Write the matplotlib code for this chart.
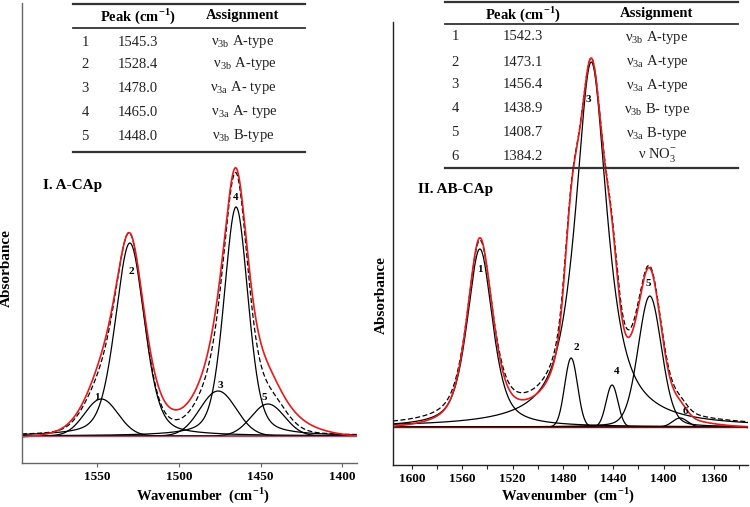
import numpy as np
import matplotlib
matplotlib.use("Agg")
import matplotlib.pyplot as plt
from matplotlib.lines import Line2D

plt.rcParams['font.family'] = ['Liberation Serif', 'DejaVu Serif']
plt.rcParams['mathtext.fontset'] = 'custom'
plt.rcParams['mathtext.rm'] = 'Liberation Serif'
plt.rcParams['mathtext.bf'] = 'Liberation Serif:bold'

W, H = 750, 507

# ---- panel I : A-CAp  (band centre, height, FWHM, lorentz fraction) ----
a_center = [1547.5, 1530.0, 1476.0, 1465.0, 1445.5]
a_height = [0.37, 1.93, 0.45, 2.29, 0.32]
a_width = [24, 21, 26, 17.5, 24]
a_eta = [0.0, 0.35, 0.0, 0.35, 0.0]
# measured spectrum (red), baseline corrected at the ends
a_obs_height = [0.40, 1.93, 0.47, 2.26, 0.44]
a_obs_width = [25, 22, 27, 18.5, 29]
a_obs_eta = [0.3, 0.55, 0.3, 0.6, 0.9]
a_labels = ['1', '2', '3', '4', '5']
a_label_x = [1550.3, 1529.0, 1474.7, 1465.5, 1447.8]
a_label_y = [0.39, 1.64, 0.50, 2.38, 0.39]
a_table = [('1', '1545.3', 'ν$_{\\mathrm{3b}}$ A-type'),
           ('2', '1528.4', ' ν$_{\\mathrm{3b}}$ A-type'),
           ('3', '1478.0', 'ν$_{\\mathrm{3a}}$ A- type'),
           ('4', '1465.0', ' ν$_{\\mathrm{3a}}$ A- type'),
           ('5', '1448.0', 'ν$_{\\mathrm{3b}}$ B-type')]

# ---- panel II : AB-CAp ----
b_center = [1546.0, 1473.5, 1457.5, 1441.0, 1411.0, 1387.0]
b_height = [1.78, 0.69, 3.65, 0.42, 1.31, 0.09]
b_width = [24, 12, 30, 11, 22, 14]
b_eta = [0.6, 0.0, 0.85, 0.0, 0.2, 0.0]
b_obs_height = [1.86, 0.72, 3.70, 0.44, 1.36, 0.10]
b_obs_width = [24, 12, 29.5, 11, 22, 14]
b_obs_eta = [0.55, 0.0, 0.8, 0.0, 0.2, 0.0]
b_labels = ['1', '2', '3', '4', '5', '6']
b_label_x = [1545.8, 1469.5, 1460.0, 1437.0, 1412.3, 1383.0]
b_label_y = [1.58, 0.79, 3.27, 0.55, 1.43, 0.15]
b_table = [('1', '1542.3', 'ν$_{\\mathrm{3b}}$ A-type'),
           ('2', '1473.1', 'ν$_{\\mathrm{3a}}$ A-type'),
           ('3', '1456.4', 'ν$_{\\mathrm{3a}}$ A-type'),
           ('4', '1438.9', 'ν$_{\\mathrm{3b}}$ B- type'),
           ('5', '1408.7', 'ν$_{\\mathrm{3a}}$ B-type'),
           ('6', '1384.2', 'ν NO$_3^{-}$')]


def band(x, c, h, w, eta):
    g = np.exp(-4 * np.log(2) * ((x - c) / w) ** 2)
    l = 1 / (1 + ((x - c) / (w / 2)) ** 2)
    return h * (eta * l + (1 - eta) * g)


def fx(px):
    return px / W


def fy(py):
    return 1 - py / H


fig = plt.figure(figsize=(7.5, 5.07), dpi=100)


def panel(rect, xlim, ylim, centers, heights, widths, etas,
          oh, ow, oe, labels, lx, ly, spine_col, base_col, major, lab_every):
    ax = fig.add_axes(rect)
    x = np.linspace(xlim[0], xlim[1], 1200)
    total = np.zeros_like(x)
    for c, h, w, e in zip(centers, heights, widths, etas):
        y = band(x, c, h, w, e)
        total += y
        ax.plot(x, y, color='black', lw=0.9)
    obs = np.zeros_like(x)
    for c, h, w, e in zip(centers, oh, ow, oe):
        obs += band(x, c, h, w, e)
    obs = obs - np.interp(x, [x[0], x[-1]], [obs[0], obs[-1]])
    ax.plot(x, total, color='black', lw=0.9, ls=(0, (4, 2)))
    ax.plot(x, obs, color='#e41a1c', lw=1.2)
    ax.axhline(0, color=base_col, lw=1.0)
    for t, a, b in zip(labels, lx, ly):
        ax.text(a, b, t, ha='center', va='center', fontsize=8, fontweight='bold')
    ax.set_xlim(xlim)
    ax.set_ylim(ylim)
    ax.set_yticks([])
    ax.set_xticks(major)
    ax.set_xticklabels([str(v) if i % lab_every == 0 else '' for i, v in enumerate(major)],
                       fontsize=9.5, fontweight='bold')
    ax.tick_params(axis='x', length=3, width=0.8, color=spine_col, pad=2.5)
    for s in ['top', 'right']:
        ax.spines[s].set_visible(False)
    for s in ['left', 'bottom']:
        ax.spines[s].set_color(spine_col)
        ax.spines[s].set_linewidth(1.0)
    ax.patch.set_alpha(0)
    return ax


panel([fx(22), fy(463), fx(357) - fx(22), fy(3) - fy(463)], (1596, 1391), (-0.27, 4.33),
      a_center, a_height, a_width, a_eta, a_obs_height, a_obs_width, a_obs_eta,
      a_labels, a_label_x, a_label_y, '#666666', '#a0506e',
      [1550, 1500, 1450, 1400], 1)
panel([fx(393), fy(465), fx(748) - fx(393), fy(22) - fy(465)], (1615, 1333), (-0.38, 4.05),
      b_center, b_height, b_width, b_eta, b_obs_height, b_obs_width, b_obs_eta,
      b_labels, b_label_x, b_label_y, '#222222', '#7a1010',
      list(range(1600, 1333, -20)), 2)


def table(x0, x1, ytop, yhead, ybot, yhtext, rows_y, colx, rows):
    for yy, lw in [(ytop, 1.6), (yhead, 1.3), (ybot, 1.6)]:
        fig.add_artist(Line2D([fx(x0), fx(x1)], [fy(yy), fy(yy)], color='#333333', lw=lw))
    fig.text(fx(colx[1]), fy(yhtext), 'Peak (cm$^{\\mathbf{-1}}$)', ha='center', va='center',
             fontsize=10.5, fontweight='bold')
    fig.text(fx(colx[2]), fy(yhtext), 'Assignment', ha='center', va='center',
             fontsize=10.5, fontweight='bold')
    for yy, (n, p, a) in zip(rows_y, rows):
        fig.text(fx(colx[0]), fy(yy), n, ha='center', va='center', fontsize=10.5, color='#222222')
        fig.text(fx(colx[1]), fy(yy), p, ha='center', va='center', fontsize=10.5, color='#222222')
        fig.text(fx(colx[2]), fy(yy), a, ha='center', va='center', fontsize=10.5, color='#222222')


table(73, 305, 3.5, 28, 152, 16, [42, 64, 88, 112, 136], [85, 138, 243], a_table)
table(445, 738, 1.5, 24, 168, 14, [37, 62, 85, 109, 133, 156], [455, 523, 657], b_table)

fig.text(fx(43), fy(186), 'I. A-CAp', ha='left', va='center', fontsize=11, fontweight='bold')
fig.text(fx(418), fy(190), 'II. AB-CAp', ha='left', va='center', fontsize=11, fontweight='bold')
fig.text(fx(6), fy(268), 'Absorbance', rotation=90, ha='center', va='center',
         fontsize=11, fontweight='bold')
fig.text(fx(381), fy(295), 'Absorbance', rotation=90, ha='center', va='center',
         fontsize=11, fontweight='bold')
fig.text(fx(203), fy(500), 'Wavenumber  (cm$^{\\mathbf{-1}}$)', ha='center', va='baseline',
         fontsize=10.5, fontweight='bold')
fig.text(fx(568), fy(500), 'Wavenumber  (cm$^{\\mathbf{-1}}$)', ha='center', va='baseline',
         fontsize=10.5, fontweight='bold')

fig.savefig('out.png', dpi=100)
